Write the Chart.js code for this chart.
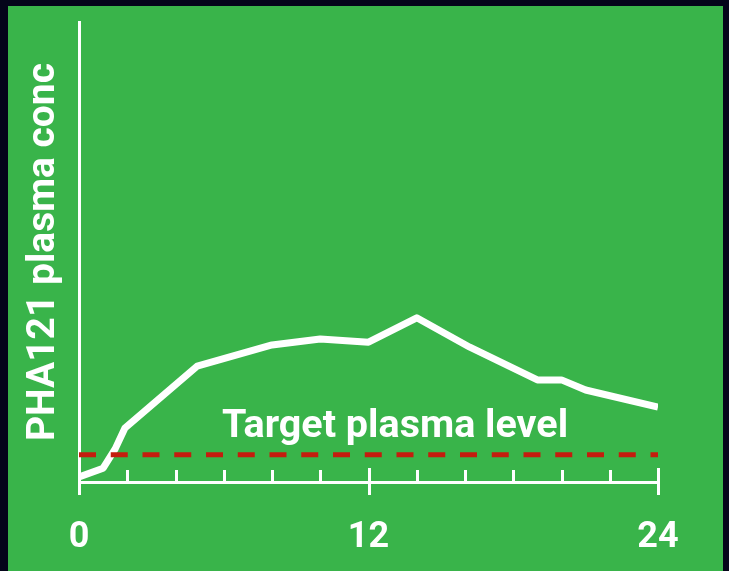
<!DOCTYPE html>
<html>
<head>
<meta charset="utf-8">
<script src="https://cdn.jsdelivr.net/npm/chart.js@4/dist/chart.umd.min.js"></script>
<style>
  html, body { margin: 0; padding: 0; background: #04051a; width: 729px; height: 571px; overflow: hidden; }
  #panel { position: absolute; left: 8px; top: 6px; width: 715px; height: 565px; background: #39b44a; }
  #c { position: absolute; left: 0; top: 0; }
</style>
</head>
<body>
<div id="panel"></div>
<canvas id="c" width="729" height="571"></canvas>
<script>
// ---- data ----
const hours = [0, 1, 1.5, 1.9, 4.9, 8, 10, 12, 14, 16.2, 19, 20, 21, 24];
const concentration = [1.1, 3.0, 7.2, 11.7, 25.2, 29.8, 31.1, 30.4, 35.7, 29.3, 22.2, 22.2, 20.0, 16.3];
const targetLevel = 5.9;
const xTickLabels = [0, 12, 24];
const minorTickStep = 2;
const yTitle = 'PHA121 plasma conc';
const targetLabel = 'Target plasma level';

const curve = hours.map((h, i) => ({ x: h, y: concentration[i] }));
const targetLine = [{ x: 0, y: targetLevel }, { x: 24, y: targetLevel }];

const FONT = 'Roboto, "Open Sans", sans-serif';

const axesPlugin = {
  id: 'axesPlugin',
  afterDatasetsDraw(chart) {
    const { ctx, scales: { x, y }, chartArea } = chart;
    ctx.save();
    ctx.strokeStyle = '#ffffff';
    ctx.lineWidth = 3;
    for (let v = 0; v <= 24; v += minorTickStep) {
      const px = Math.round(x.getPixelForValue(v)) + 0.5;
      const major = xTickLabels.includes(v);
      ctx.beginPath();
      if (major) {
        ctx.moveTo(px, chartArea.bottom - 14);
        ctx.lineTo(px, chartArea.bottom + 13);
      } else {
        ctx.moveTo(px, chartArea.bottom - 12);
        ctx.lineTo(px, chartArea.bottom);
      }
      ctx.stroke();
    }
    ctx.fillStyle = '#ffffff';
    ctx.font = 'bold 39.5px ' + FONT;
    ctx.textAlign = 'center';
    ctx.textBaseline = 'alphabetic';
    ctx.fillText(targetLabel, x.getPixelForValue(13.1), y.getPixelForValue(targetLevel) - 18);
    ctx.restore();
  }
};

new Chart(document.getElementById('c'), {
  type: 'line',
  data: {
    datasets: [
      {
        data: targetLine,
        borderColor: '#c41d0e',
        borderWidth: 5,
        borderDash: [17, 14.75],
        pointRadius: 0,
        order: 0
      },
      {
        data: curve,
        borderColor: '#ffffff',
        borderWidth: 7,
        pointRadius: 0,
        tension: 0,
        borderJoinStyle: 'round',
        order: 1
      }
    ]
  },
  options: {
    responsive: false,
    animation: false,
    devicePixelRatio: 1,
    layout: { padding: { left: 0, right: 71, top: 22, bottom: 0 } },
    plugins: { legend: { display: false }, tooltip: { enabled: false } },
    scales: {
      x: {
        type: 'linear',
        min: 0,
        max: 24,
        afterFit(s) { s.height = 89; },
        afterBuildTicks(s) { s.ticks = xTickLabels.map(v => ({ value: v })); },
        grid: { display: false, drawTicks: false },
        border: { display: true, color: '#ffffff', width: 3 },
        ticks: {
          color: '#ffffff',
          font: { family: FONT, size: 36, weight: 'bold' },
          padding: 34,
          maxRotation: 0,
          autoSkip: false
        }
      },
      y: {
        type: 'linear',
        min: 0,
        max: 100,
        afterFit(s) { s.width = 79; },
        grid: { display: false, drawTicks: false },
        border: { display: true, color: '#ffffff', width: 3 },
        ticks: { display: false },
        title: {
          display: true,
          text: yTitle,
          color: '#ffffff',
          font: { family: FONT, size: 39, weight: 'bold' },
          padding: { top: 21, bottom: 0 }
        }
      }
    }
  },
  plugins: [axesPlugin]
});
</script>
</body>
</html>
